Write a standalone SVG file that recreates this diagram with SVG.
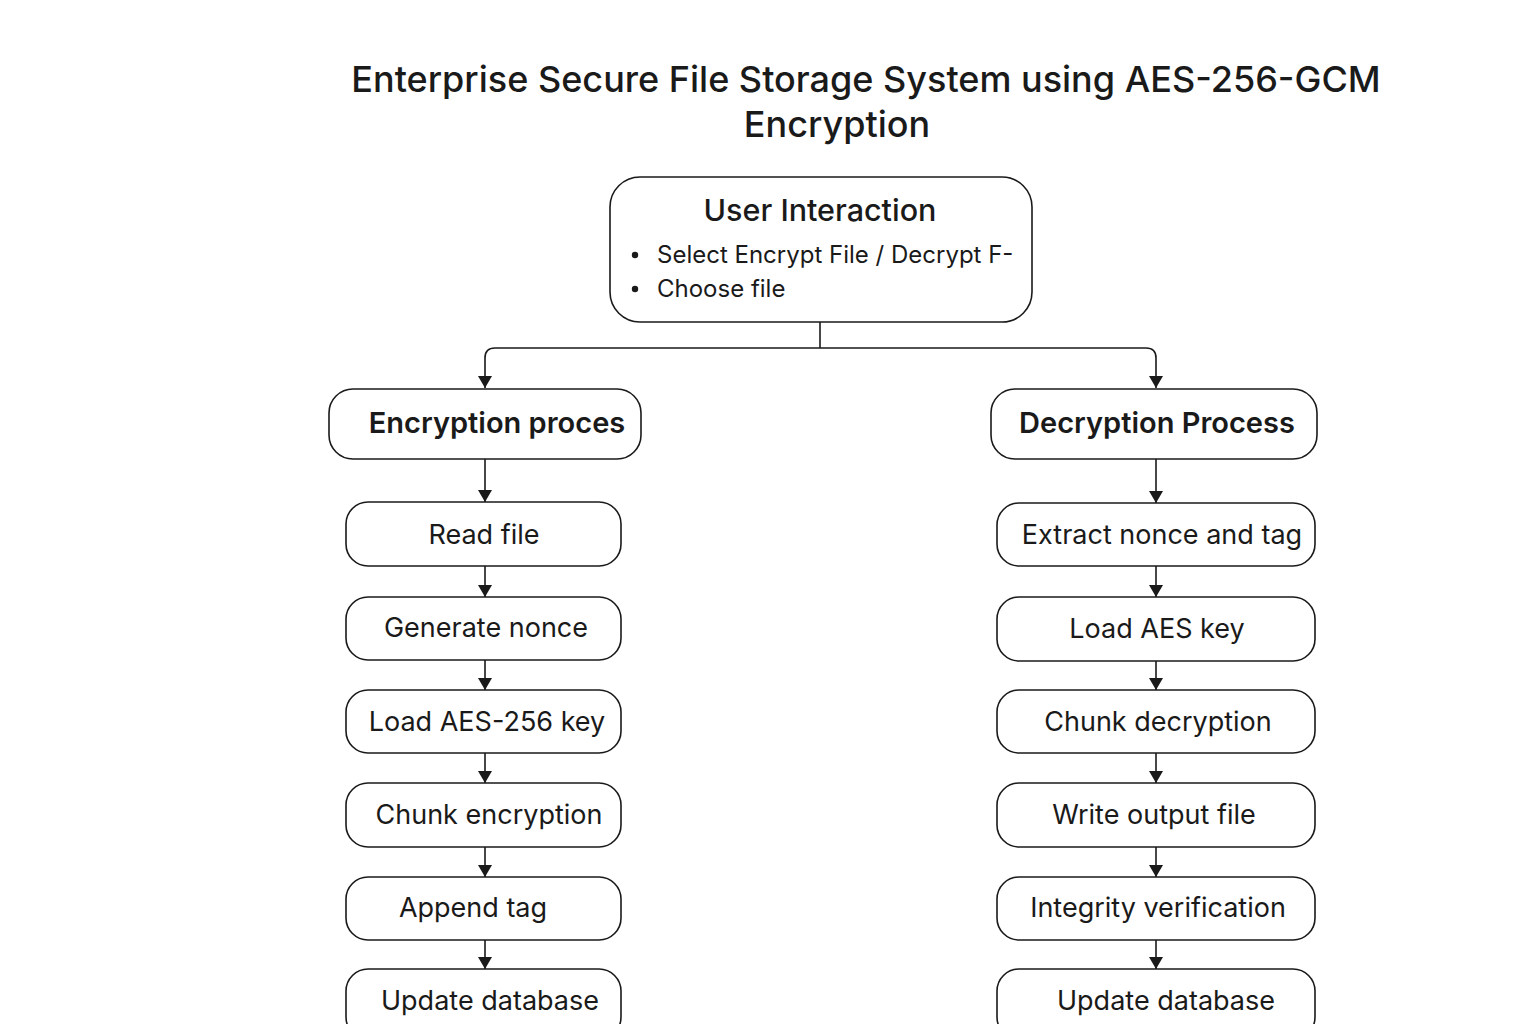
<svg xmlns="http://www.w3.org/2000/svg" width="1536" height="1024" viewBox="0 0 1536 1024">
<style>
.box{fill:#fff;stroke:#1a1a1a;stroke-width:1.6}
.t{font-family:Inter,"Noto Sans",sans-serif;fill:#1a1a1a;text-anchor:middle}
.title{font-size:36px;font-weight:500}
.hd{font-size:29px;font-weight:600}
.ui{font-size:30.5px;font-weight:500}
.st{font-size:27px}
.bl{font-size:24px;text-anchor:start}
.ln{fill:none;stroke:#1a1a1a;stroke-width:1.6}
</style>
<defs>
<marker id="ah" viewBox="0 0 12 14" refX="12" refY="7" markerWidth="12" markerHeight="14" markerUnits="userSpaceOnUse" orient="auto">
<path d="M0,0 L12,7 L0,14 z" fill="#1a1a1a"/>
</marker>
</defs>
<rect width="1536" height="1024" fill="#fff"/>
<g id="title">
<text class="t title" x="866" y="92">Enterprise Secure File Storage System using AES-256-GCM</text>
<text class="t title" x="837" y="137">Encryption</text>
</g>
<g id="connectors">
<path class="ln" d="M820,322 V348"/>
<path class="ln" d="M820,348 H495 Q485,348 485,358 V388" marker-end="url(#ah)"/>
<path class="ln" d="M820,348 H1146 Q1156,348 1156,358 V388" marker-end="url(#ah)"/>
<path class="ln" d="M485,459 V502" marker-end="url(#ah)"/>
<path class="ln" d="M485,566 V597" marker-end="url(#ah)"/>
<path class="ln" d="M485,660 V690" marker-end="url(#ah)"/>
<path class="ln" d="M485,753 V783" marker-end="url(#ah)"/>
<path class="ln" d="M485,847 V877" marker-end="url(#ah)"/>
<path class="ln" d="M485,940 V969" marker-end="url(#ah)"/>
<path class="ln" d="M1156,459 V503" marker-end="url(#ah)"/>
<path class="ln" d="M1156,566 V597" marker-end="url(#ah)"/>
<path class="ln" d="M1156,661 V690" marker-end="url(#ah)"/>
<path class="ln" d="M1156,753 V783" marker-end="url(#ah)"/>
<path class="ln" d="M1156,847 V877" marker-end="url(#ah)"/>
<path class="ln" d="M1156,940 V969" marker-end="url(#ah)"/>
</g>
<g id="user-interaction">
<rect class="box" x="610" y="177" width="422" height="145" rx="30"/>
<text class="t ui" x="820" y="221">User Interaction</text>
<circle cx="635" cy="255" r="3.2" fill="#1a1a1a"/>
<circle cx="635" cy="289" r="3.2" fill="#1a1a1a"/>
<text class="t bl" x="657" y="263">Select Encrypt File / Decrypt F-</text>
<text class="t bl" x="657" y="297">Choose file</text>
</g>
<g id="encryption-process">
<rect class="box" x="329" y="389" width="312" height="70" rx="24"/>
<text class="t hd" x="497" y="433">Encryption proces</text>
</g>
<g id="decryption-process">
<rect class="box" x="991" y="389" width="326" height="70" rx="24"/>
<text class="t hd" x="1157" y="433">Decryption Process</text>
</g>
<g id="read-file">
<rect class="box" x="346" y="502" width="275" height="64" rx="22"/>
<text class="t st" x="484" y="544">Read file</text>
</g>
<g id="generate-nonce">
<rect class="box" x="346" y="597" width="275" height="63" rx="22"/>
<text class="t st" x="486" y="637">Generate nonce</text>
</g>
<g id="load-aes-256-key">
<rect class="box" x="346" y="690" width="275" height="63" rx="22"/>
<text class="t st" x="487" y="731">Load AES-256 key</text>
</g>
<g id="chunk-encryption">
<rect class="box" x="346" y="783" width="275" height="64" rx="22"/>
<text class="t st" x="489" y="824">Chunk encryption</text>
</g>
<g id="append-tag">
<rect class="box" x="346" y="877" width="275" height="63" rx="22"/>
<text class="t st" x="473" y="917">Append tag</text>
</g>
<g id="update-database-enc">
<rect class="box" x="346" y="969" width="275" height="70" rx="22"/>
<text class="t st" x="490" y="1010">Update database</text>
</g>
<g id="extract-nonce-tag">
<rect class="box" x="997" y="503" width="318" height="63" rx="22"/>
<text class="t st" x="1162" y="544">Extract nonce and tag</text>
</g>
<g id="load-aes-key">
<rect class="box" x="997" y="597" width="318" height="64" rx="22"/>
<text class="t st" x="1157" y="638">Load AES key</text>
</g>
<g id="chunk-decryption">
<rect class="box" x="997" y="690" width="318" height="63" rx="22"/>
<text class="t st" x="1158" y="731">Chunk decryption</text>
</g>
<g id="write-output-file">
<rect class="box" x="997" y="783" width="318" height="64" rx="22"/>
<text class="t st" x="1154" y="824">Write output file</text>
</g>
<g id="integrity-verification">
<rect class="box" x="997" y="877" width="318" height="63" rx="22"/>
<text class="t st" x="1158" y="917">Integrity verification</text>
</g>
<g id="update-database-dec">
<rect class="box" x="997" y="969" width="318" height="70" rx="22"/>
<text class="t st" x="1166" y="1010">Update database</text>
</g>
</svg>
